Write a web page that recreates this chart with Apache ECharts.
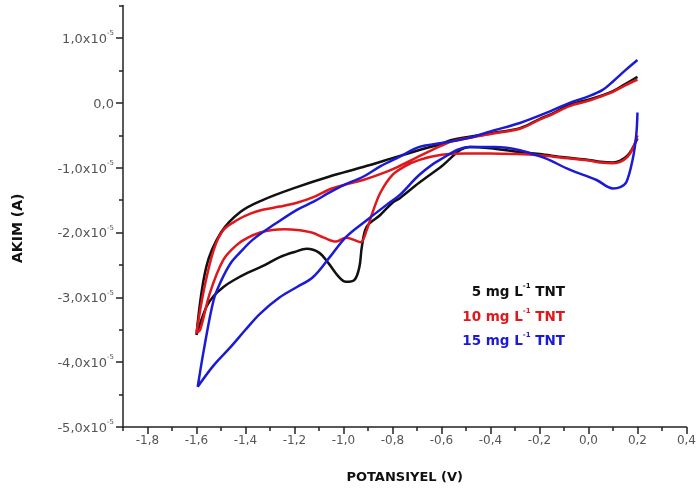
<!DOCTYPE html>
<html><head><meta charset="utf-8">
<script src="https://cdn.jsdelivr.net/npm/echarts@6/dist/echarts.min.js"></script>
<style>html,body{margin:0;padding:0;background:#fff}#c{width:699px;height:493px}</style>
</head><body><div id="c"></div>
<script>
// Potential (V) vs current (units of 1e-5 A)
var xMajorTicks = [-1.8,-1.6,-1.4,-1.2,-1.0,-0.8,-0.6,-0.4,-0.2,0.0,0.2,0.4];
var xMinorTicks = [-1.9,-1.7,-1.5,-1.3,-1.1,-0.9,-0.7,-0.5,-0.3,-0.1,0.1,0.3];
var yMajorTicks = [-5,-4,-3,-2,-1,0,1];
var yMinorTicks = [-4.5,-3.5,-2.5,-1.5,-0.5,0.5,1.5];

var black5 = [
 [0.2,0.40],[0.15,0.29],[0.1,0.18],[0.058,0.12],[0.0,0.05],[-0.077,-0.03],[-0.15,-0.17],[-0.2,-0.25],[-0.28,-0.39],[-0.4,-0.47],[-0.554,-0.57],[-0.6,-0.63],[-0.7,-0.74],[-0.78,-0.83],[-0.92,-0.99],[-1.06,-1.14],[-1.19,-1.30],[-1.33,-1.50],[-1.42,-1.68],[-1.5,-2.0],[-1.56,-2.53],[-1.6,-3.58],
 [-1.56,-3.15],[-1.53,-2.98],[-1.49,-2.84],[-1.45,-2.74],[-1.39,-2.62],[-1.32,-2.5],[-1.26,-2.38],[-1.2,-2.3],[-1.15,-2.25],[-1.10,-2.31],[-1.06,-2.48],[-1.02,-2.68],[-0.99,-2.76],[-0.955,-2.73],[-0.935,-2.53],[-0.925,-2.22],[-0.905,-1.91],[-0.85,-1.73],[-0.80,-1.54],[-0.77,-1.47],[-0.69,-1.23],[-0.607,-1.0],[-0.485,-0.68],[-0.4,-0.70],[-0.3,-0.75],[-0.2,-0.79],[-0.1,-0.84],[0.0,-0.88],[0.05,-0.91],[0.1,-0.92],[0.13,-0.89],[0.16,-0.81],[0.18,-0.7],[0.2,-0.55]
];
var red10 = [
 [0.2,0.36],[0.15,0.27],[0.1,0.17],[0.058,0.11],[0.0,0.03],[-0.077,-0.05],[-0.15,-0.18],[-0.2,-0.26],[-0.28,-0.40],[-0.4,-0.48],[-0.554,-0.59],[-0.6,-0.66],[-0.7,-0.84],[-0.78,-0.99],[-0.85,-1.10],[-0.92,-1.19],[-1.0,-1.27],[-1.06,-1.34],[-1.12,-1.45],[-1.19,-1.54],[-1.26,-1.60],[-1.33,-1.65],[-1.38,-1.71],[-1.43,-1.80],[-1.49,-1.96],[-1.53,-2.27],[-1.57,-2.89],[-1.6,-3.55],
 [-1.585,-3.5],[-1.545,-2.93],[-1.49,-2.42],[-1.435,-2.19],[-1.39,-2.08],[-1.34,-2.0],[-1.29,-1.96],[-1.24,-1.95],[-1.19,-1.96],[-1.13,-2.0],[-1.08,-2.08],[-1.03,-2.14],[-0.99,-2.08],[-0.96,-2.11],[-0.93,-2.15],[-0.905,-1.96],[-0.885,-1.73],[-0.85,-1.39],[-0.80,-1.11],[-0.75,-0.98],[-0.69,-0.88],[-0.6,-0.80],[-0.5,-0.78],[-0.4,-0.78],[-0.3,-0.79],[-0.2,-0.81],[-0.1,-0.85],[0.0,-0.89],[0.05,-0.92],[0.1,-0.93],[0.13,-0.91],[0.16,-0.83],[0.18,-0.71],[0.2,-0.5]
];
var blue15 = [
 [0.2,0.66],[0.15,0.50],[0.1,0.33],[0.058,0.20],[0.0,0.10],[-0.077,0.0],[-0.15,-0.12],[-0.28,-0.31],[-0.4,-0.44],[-0.485,-0.54],[-0.6,-0.62],[-0.69,-0.68],[-0.77,-0.83],[-0.85,-0.98],[-0.92,-1.14],[-1.0,-1.27],[-1.06,-1.39],[-1.12,-1.52],[-1.19,-1.65],[-1.28,-1.87],[-1.37,-2.11],[-1.42,-2.30],[-1.46,-2.47],[-1.5,-2.75],[-1.53,-3.04],[-1.57,-3.81],[-1.595,-4.38],
 [-1.53,-4.05],[-1.464,-3.78],[-1.4,-3.5],[-1.34,-3.25],[-1.26,-3.0],[-1.19,-2.84],[-1.125,-2.69],[-1.056,-2.38],[-0.99,-2.07],[-0.905,-1.81],[-0.823,-1.57],[-0.77,-1.42],[-0.69,-1.11],[-0.607,-0.88],[-0.485,-0.68],[-0.38,-0.68],[-0.28,-0.73],[-0.18,-0.85],[-0.077,-1.03],[0.033,-1.19],[0.1,-1.32],[0.13,-1.30],[0.155,-1.22],[0.18,-0.88],[0.195,-0.5],[0.2,-0.15]
];

var seriesNames = ['5 mg L-1 TNT','10 mg L-1 TNT','15 mg L-1 TNT'];
var seriesColors = ['#111111','#e0181c','#1b1bd6'];
var seriesData = [black5, red10, blue15];

function fmtX(v){ return v.toFixed(1).replace('.',','); }
function fmtY(v){ if (Math.abs(v) < 1e-9) return '{b|0,0}'; return '{b|' + v.toFixed(1).replace('.',',') + 'x10}{s|-5}'; }

var chart = echarts.init(document.getElementById('c'));
var FONT = 'DejaVu Sans';
var axisCol = '#222';
var option = {
  animation: false,
  grid: {left: 123, right: 12, top: 5.6, bottom: 66},
  xAxis: [{
    type: 'value', min: -1.9, max: 0.4,
    name: 'POTANSIYEL (V)', nameLocation: 'middle', nameGap: 44,
    nameTextStyle: {fontFamily: FONT, fontWeight: 'bold', fontSize: 13, color: '#111'},
    axisLine: {onZero: false, lineStyle: {color: axisCol, width: 1.5}},
    axisTick: {customValues: xMajorTicks, length: 7, lineStyle: {color: axisCol, width: 1.5}},
    axisLabel: {customValues: xMajorTicks, formatter: fmtX, fontFamily: FONT, fontSize: 12, color: '#555', margin: 8},
    splitLine: {show: false}
  },{
    type: 'value', min: -1.9, max: 0.4, position: 'bottom',
    axisLine: {show: false, onZero: false},
    axisTick: {customValues: xMinorTicks, length: 4, lineStyle: {color: axisCol, width: 1.5}},
    axisLabel: {show: false}, splitLine: {show: false}
  }],
  yAxis: [{
    type: 'value', min: -5, max: 1.5,
    name: 'AKIM (A)', nameLocation: 'middle', nameGap: 98, nameRotate: 90,
    nameTextStyle: {fontFamily: FONT, fontWeight: 'bold', fontSize: 14, color: '#111', padding: [0, 24, 0, 0]},
    axisLine: {onZero: false, lineStyle: {color: axisCol, width: 1.5}},
    axisTick: {customValues: yMajorTicks, length: 7, lineStyle: {color: axisCol, width: 1.5}},
    axisLabel: {customValues: yMajorTicks, formatter: fmtY, margin: 9,
      rich: {b: {fontFamily: FONT, fontSize: 13, color: '#555', lineHeight: 16, verticalAlign: 'bottom'},
             s: {fontFamily: FONT, fontSize: 7, color: '#555', lineHeight: 16, verticalAlign: 'top'}}},
    splitLine: {show: false}
  },{
    type: 'value', min: -5, max: 1.5, position: 'left',
    axisLine: {show: false, onZero: false},
    axisTick: {customValues: yMinorTicks, length: 4, lineStyle: {color: axisCol, width: 1.5}},
    axisLabel: {show: false}, splitLine: {show: false}
  }],
  series: seriesData.map(function(d, i){
    return {name: seriesNames[i], type: 'line', data: d, showSymbol: false, smooth: 0.35,
      xAxisIndex: 0, yAxisIndex: 0, z: 3 + i,
      lineStyle: {color: seriesColors[i], width: 2.5}, itemStyle: {color: seriesColors[i]}};
  }),
  graphic: seriesNames.map(function(n, i){
    var parts = n.split('L-1');
    return {type: 'text', x: 565, y: [291, 316, 340][i], z: 10,
      style: {text: '{a|' + parts[0] + 'L}{s|-1}{a|' + parts[1] + '}', align: 'right', verticalAlign: 'middle',
        rich: {a: {fontFamily: FONT, fontWeight: 'bold', fontSize: 13.5, fill: seriesColors[i], color: seriesColors[i], lineHeight: 17, verticalAlign: 'bottom'},
               s: {fontFamily: FONT, fontWeight: 'bold', fontSize: 7, fill: seriesColors[i], color: seriesColors[i], lineHeight: 17, verticalAlign: 'top'}}}};
  })
};
chart.setOption(option);
</script></body></html>
